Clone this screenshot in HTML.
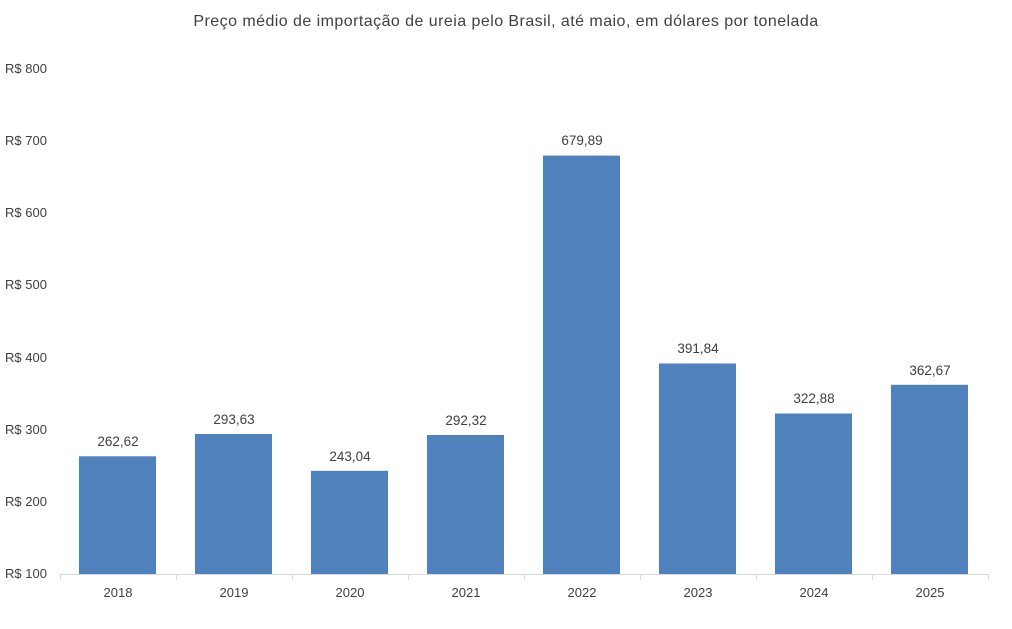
<!DOCTYPE html>
<html><head><meta charset="utf-8"><style>
html,body{margin:0;padding:0;background:#fff;width:1012px;height:629px;overflow:hidden}
text{font-family:"Liberation Sans",sans-serif;fill:#404040}
</style></head><body>
<svg width="1012" height="629" xmlns="http://www.w3.org/2000/svg">
<text x="506" y="26" font-size="16" letter-spacing="0.45" text-anchor="middle" fill="#404040">Preço médio de importação de ureia pelo Brasil, até maio, em dólares por tonelada</text>
<g font-size="13" fill="#595959">
<text x="5" y="578">R$ 100</text>
<text x="5" y="506">R$ 200</text>
<text x="5" y="434">R$ 300</text>
<text x="5" y="362">R$ 400</text>
<text x="5" y="289">R$ 500</text>
<text x="5" y="217">R$ 600</text>
<text x="5" y="145">R$ 700</text>
<text x="5" y="73">R$ 800</text>
</g>
<g fill="#4F81BD">
<rect x="79" y="456.3" width="77" height="117.7"/>
<rect x="195" y="434" width="77" height="140"/>
<rect x="311" y="470.8" width="77" height="103.2"/>
<rect x="427" y="435" width="77" height="139"/>
<rect x="543" y="155.6" width="77" height="418.4"/>
<rect x="659" y="363.5" width="77" height="210.5"/>
<rect x="775" y="413.5" width="77" height="160.5"/>
<rect x="891" y="384.8" width="77" height="189.2"/>
</g>
<g stroke="#d9d9d9" stroke-width="1">
<line x1="60" y1="574.5" x2="988" y2="574.5"/>
<line x1="60.5" y1="574" x2="60.5" y2="580"/><line x1="176.5" y1="574" x2="176.5" y2="580"/>
<line x1="292.5" y1="574" x2="292.5" y2="580"/><line x1="408.5" y1="574" x2="408.5" y2="580"/>
<line x1="524.5" y1="574" x2="524.5" y2="580"/><line x1="640.5" y1="574" x2="640.5" y2="580"/>
<line x1="756.5" y1="574" x2="756.5" y2="580"/><line x1="872.5" y1="574" x2="872.5" y2="580"/>
<line x1="988.5" y1="574" x2="988.5" y2="580"/>
</g>
<g font-size="13.5" text-anchor="middle" fill="#404040">
<text x="118" y="446">262,62</text>
<text x="234" y="424">293,63</text>
<text x="350" y="461">243,04</text>
<text x="466" y="425">292,32</text>
<text x="582" y="145">679,89</text>
<text x="698" y="353">391,84</text>
<text x="814" y="403">322,88</text>
<text x="930" y="375">362,67</text>
</g>
<g font-size="13" text-anchor="middle" fill="#595959">
<text x="118" y="597">2018</text><text x="234" y="597">2019</text><text x="350" y="597">2020</text><text x="466" y="597">2021</text>
<text x="582" y="597">2022</text><text x="698" y="597">2023</text><text x="814" y="597">2024</text><text x="930" y="597">2025</text>
</g>
</svg>
</body></html>
